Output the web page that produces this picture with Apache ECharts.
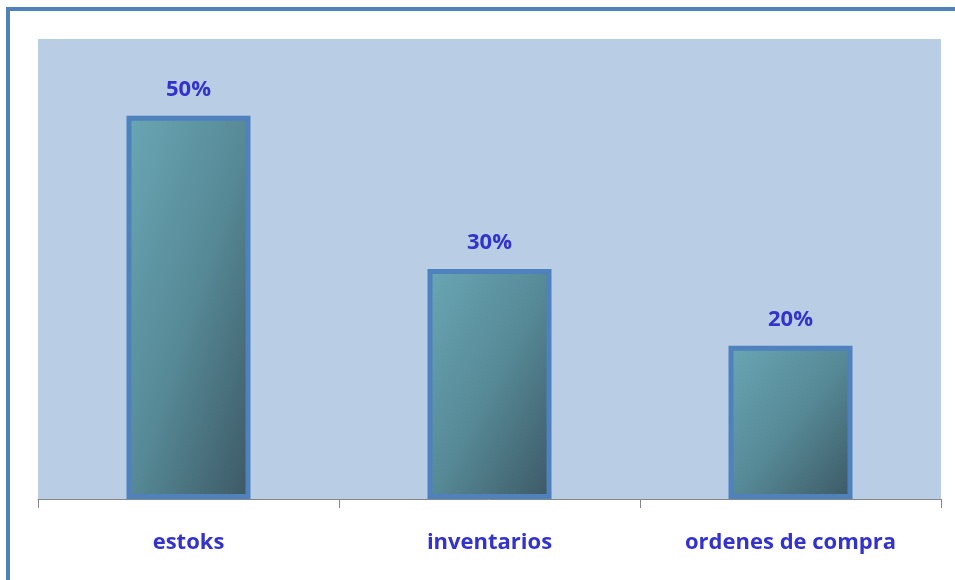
<!DOCTYPE html>
<html>
<head>
<meta charset="utf-8">
<script src="https://cdn.jsdelivr.net/npm/echarts@6/dist/echarts.min.js"></script>
<style>
  html, body { margin: 0; padding: 0; background: #ffffff; }
  #frame { position: absolute; left: 6px; top: 7px; width: 960px; height: 600px;
           border-left: 4px solid #4F81BD; border-top: 4px solid #4F81BD; box-sizing: border-box; }
  #chart { position: absolute; left: 0; top: 0; width: 955px; height: 580px; }
</style>
</head>
<body>
<div id="frame"></div>
<div id="chart"></div>
<script>
const categories = ['estoks', 'inventarios', 'ordenes de compra'];
const values = [50, 30, 20];
const labelFont = '"Open Sans", "Noto Sans", sans-serif';

const BAR_W = 124;
const PLOT_H = 460;
const Y_MAX = 60;

// Gradient whose isolines follow the shape diagonal (like a shape-scaled 45° fill)
function barGradient(value) {
  const r = (value / Y_MAX * PLOT_H) / BAR_W;
  const d = r * r + 1;
  return new echarts.graphic.LinearGradient(0, 0, 2 * r * r / d, 2 / d, [
    { offset: 0, color: '#6AA6B5' },
    { offset: 0.5, color: '#578A97' },
    { offset: 1, color: '#3C5864' }
  ]);
}

const chart = echarts.init(document.getElementById('chart'), null, { renderer: 'canvas' });
chart.setOption({
  backgroundColor: 'transparent',
  animation: false,
  grid: { left: 38, top: 39, right: 14, bottom: 81, show: true, backgroundColor: '#B9CDE5', borderWidth: 0 },
  xAxis: {
    type: 'category',
    data: categories,
    axisLine: { show: true, lineStyle: { color: '#868686', width: 1 } },
    axisTick: { show: true, length: 9, lineStyle: { color: '#868686' } },
    axisLabel: { color: '#3333CC', fontWeight: 'bold', fontSize: 22, fontFamily: labelFont, margin: 33 }
  },
  yAxis: {
    type: 'value', min: 0, max: Y_MAX,
    axisLine: { show: false }, axisTick: { show: false }, axisLabel: { show: false }, splitLine: { show: false }
  },
  series: [{
    type: 'bar',
    data: values,
    barWidth: BAR_W,
    itemStyle: {
      color: p => barGradient(p.value),
      borderColor: '#4F81BD',
      borderWidth: 5
    },
    label: {
      show: true, position: 'top', distance: 15,
      formatter: p => p.value + '%',
      color: '#3333CC', fontWeight: 'bold', fontSize: 22, fontFamily: labelFont
    }
  }]
});
</script>
</body>
</html>
